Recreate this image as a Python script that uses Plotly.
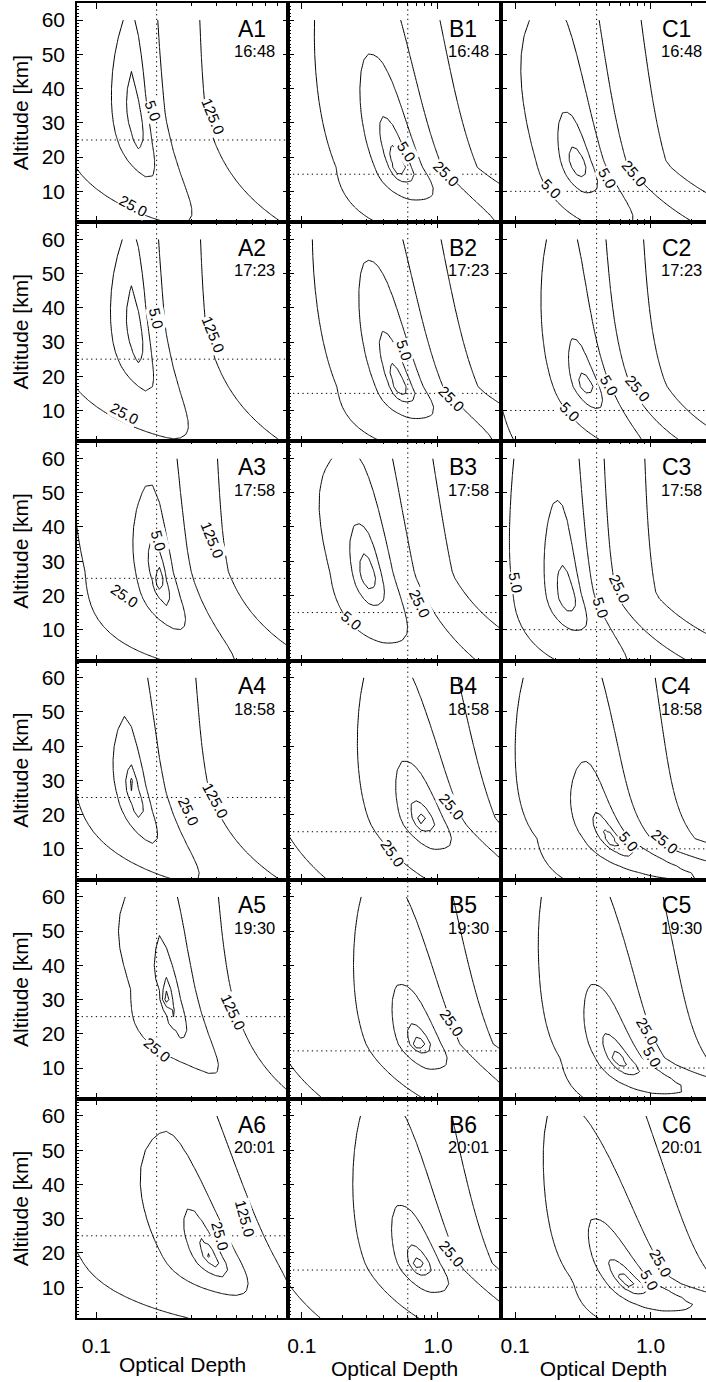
import numpy as np
import plotly.graph_objects as go
from plotly.subplots import make_subplots

# ---------------- data ----------------
COLUMNS = ["A", "B", "C"]
TIMES = ["16:48", "17:23", "17:58", "18:58", "19:30", "20:01"]
TRUE_TAU = [0.2, 0.6, 0.4]          # dotted vertical line per column
TRUE_ALT = [25, 15, 10]             # dotted horizontal line per column
LEVELS = [0.2, 1, 5, 25, 125, 625, 3125]

# chi-square surface description (order A1..A6, B1..B6, C1..C6)
MIN_LOGTAU = [-0.81, -0.81, -0.70, -0.82, -0.67, -0.43,
              -0.30, -0.29, -0.53, -0.13, -0.155, -0.155,
              -0.554, -0.49, -0.63, -0.30, -0.25, -0.20]
MIN_ALT = [33, 35, 27, 27.5, 33, 19,
           17, 16.5, 26, 18, 17, 16.3,
           18.2, 17.4, 20, 13, 12.5, 12]
VALLEY_SCALE = [15, 15, 15, 15, 15, 15,
                15, 15, 15, 15, 15, 15,
                15, 15, 15, 8, 8, 8]
VALLEY_CURVE = [0.25, 0.25, 0.30, 0.335, 0.5, 0.256,
                0.29, 0.29, 0.17, 0.30, 0.30, 0.30,
                0.233, 0.415, 0.253, 0.727, 0.5, 0.5]
VALLEY_TILT = [0.0, 0.0, 0.0, 0.0, 0.0, 0.213,
               0.2, 0.2, 0.166, 0.2, 0.2, 0.2,
               0.138, 0.044, 0.025, 0.123, 0.2, 0.361]
SCALE_UP = [12.0, 11.5, 10.0, 8.2, 6.2, 5.5,
            14.8, 16.7, 14.9, 6.02, 5.95, 6.02,
            15.0, 13.6, 27.7, 7.73, 7.5, 6.16]
POW_UP = [1.7, 1.7, 1.7, 1.7, 1.7, 1.7,
          2.0, 2.0, 1.8, 1.5, 1.5, 1.5,
          1.4, 1.2, 1.4, 1.5, 1.5, 1.5]
SCALE_DOWN = [11.2, 11.4, 10.0, 9.4, 8.5, 3.15,
              4.25, 3.94, 8.9, 2.77, 2.5, 2.67,
              8.6, 6.8, 10.2, 5.5, 4.5, 4.0]
POW_DOWN = [3, 3, 3, 3, 3, 2.5,
            2, 2, 2, 1.5, 1.5, 1.5,
            2, 1.5, 2, 2, 2, 2]
POW_R = [1.9, 1.9, 2.2, 1.9, 2.2, 1.9,
         2.8, 2.8, 2.8, 2.8, 2.8, 2.8,
         2.8, 2.8, 2.8, 2.2, 2.6, 2.6]
WIDTH_R = [0.028, 0.028, 0.040, 0.030, 0.038, 0.025,
           0.105, 0.105, 0.114, 0.10, 0.10, 0.10,
           0.12, 0.108, 0.12, 0.07, 0.105, 0.105]
GROW_R = [0.8, 0.8, 0.8, 0.5, 0.0, 0.0,
          1.6, 1.6, 1.2, 2.0, 2.0, 2.0,
          1.4, 0.6, 1.5, 3.0, 3.0, 4.0]
POW_L = [1.3, 1.3, 1.3, 1.3, 0.7, 1.6,
         1.6, 1.6, 1.6, 1.6, 1.6, 1.6,
         1.6, 1.6, 1.6, 1.6, 1.6, 1.6]
WIDTH_L = [0.032, 0.034, 0.030, 0.024, 0.0016, 0.032,
           0.06, 0.06, 0.095, 0.05, 0.05, 0.05,
           0.105, 0.085, 0.14, 0.072, 0.055, 0.05]
GROW_L = [0.0, 0.0, 0.5, 0.0, 3.0, 0.0,
          0.8, 0.8, 0.8, 0.0, 0.0, 0.0,
          0.3, 0.6, 0.5, 1.2, 1.2, 1.5]
TOP_L = [0.0, 0.0, 0.3, 0.3, 1.5, 0.3,
         0.0, 0.0, 0.5, 0.0, 0.0, 0.0,
         0.45, 0.2, 0.0, 0.13, 0.1, 0.0]

# contour labels
LABEL_TEXT = ["5.0", "125.0", "25.0",
              "5.0", "125.0", "25.0",
              "5.0", "125.0", "25.0",
              "125.0", "25.0",
              "125.0", "25.0",
              "125.0", "25.0",
              "5.0", "25.0",
              "5.0", "25.0",
              "5.0", "25.0",
              "25.0", "25.0",
              "25.0",
              "25.0",
              "5.0", "5.0", "25.0",
              "5.0", "5.0", "25.0",
              "5.0", "5.0", "25.0",
              "5.0", "25.0",
              "25.0", "5.0",
              "25.0", "5.0"]
LABEL_PANEL = [0, 0, 0, 1, 1, 1, 2, 2, 2, 3, 3, 4, 4, 5, 5,
               6, 6, 7, 7, 8, 8, 9, 9, 10, 11,
               12, 12, 12, 13, 13, 13, 14, 14, 14, 15, 15, 16, 16, 17, 17]
LABEL_U = [-0.717, -0.417, -0.817, -0.70, -0.417, -0.858, -0.69, -0.42, -0.86,
           -0.404, -0.539, -0.315, -0.697, -0.258, -0.382,
           -0.233, 0.061, -0.245, 0.098, -0.637, -0.135, 0.099, -0.331, 0.099, 0.099,
           -0.734, -0.315, -0.118, -0.60, -0.303, -0.094, -0.993, -0.365, -0.229,
           -0.161, 0.105, -0.021, 0.012, 0.072, -0.004]
LABEL_ALT = [33.7, 31.8, 6.0, 36.9, 32.1, 9.2, 36.0, 36.0, 20.0,
             24.2, 20.9, 26.2, 15.5, 30.0, 25.1,
             21.6, 15.3, 27.6, 13.5, 12.7, 17.6, 22.3, 8.7, 23.2, 19.8,
             10.9, 13.8, 15.3, 9.6, 17.4, 16.4, 23.9, 16.6, 22.0,
             12.1, 12.1, 20.7, 13.4, 17.1, 12.0]
LABEL_ANGLE = [70, 68, 28, 78, 68, 28, 75, 68, 35,
               62, 65, 65, 40, 75, 75,
               58, 45, 72, 45, 40, 65, 50, 55, 55, 50,
               45, 60, 50, 45, 60, 50, 80, 72, 65,
               50, 40, 60, 60, 60, 60]

# ---------------- layout constants ----------------
XRANGE = [(-1.097, -0.041), (-1.10, 0.4625), (-1.105, 0.41)]
YRANGE = [1, 65]
FONT = "Liberation Sans, Arial, Helvetica, sans-serif"
NAME_X = [0.90, 0.893, 0.93]
TIME_X = [0.941, 0.951, 0.984]

ALT_GRID = np.array([1, 3, 5, 7, 9, 11, 13, 15, 17, 19, 21, 23, 25, 27, 30,
                     33, 36, 40, 45, 50, 55, 60], dtype=float)
U_GRID = np.arange(-1.14, 0.50, 0.035)


def surface(i):
    U, H = np.meshgrid(U_GRID, ALT_GRID)
    u0, h0, sc = MIN_LOGTAU[i], MIN_ALT[i], VALLEY_SCALE[i]
    E = np.exp(-H / sc)
    E0 = np.exp(-h0 / sc)
    centre = u0 + VALLEY_CURVE[i] * (E - E0) + VALLEY_TILT[i] * (h0 - H) / 50.0
    dh = H - h0
    floor = np.where(dh > 0, (np.abs(dh) / SCALE_UP[i]) ** POW_UP[i],
                     (np.abs(dh) / SCALE_DOWN[i]) ** POW_DOWN[i])
    d = U - centre
    low = np.maximum(0.0, E - E0)
    up = (np.maximum(0.0, dh) / 30.0) ** 1.5
    wr = WIDTH_R[i] * (1 + GROW_R[i] * low)
    wl = WIDTH_L[i] * (1 + GROW_L[i] * low) * (1 + TOP_L[i] * up)
    f = np.where(d > 0, (np.abs(d) / wr) ** POW_R[i], (np.abs(d) / wl) ** POW_L[i])
    z = floor + f
    return np.log(np.maximum(z, 1e-4)) / np.log(5.0)


fig = make_subplots(rows=6, cols=3, horizontal_spacing=0, vertical_spacing=0,
                    column_widths=[211.2, 212.5, 205])

minor_x = [0.2, 0.3, 0.4, 0.5, 0.6, 0.7, 0.8, 0.9, 2, 3]
lvl_log = np.log(LEVELS) / np.log(5.0)
dotted = dict(color="black", width=1, dash="1.3px,3.4px")

for col in range(3):
    for row in range(6):
        i = col * 6 + row
        fig.add_trace(go.Contour(
            x=10 ** U_GRID, y=ALT_GRID, z=surface(i),
            contours=dict(start=float(lvl_log[0]), end=float(lvl_log[-1]), size=1.0,
                          coloring="lines", showlabels=False),
            colorscale=[[0, "black"], [1, "black"]], showscale=False,
            line=dict(width=1, smoothing=0), hoverinfo="skip"),
            row=row + 1, col=col + 1)
        lo, hi = 10 ** XRANGE[col][0], 10 ** XRANGE[col][1]
        fig.add_trace(go.Scatter(x=[TRUE_TAU[col]] * 2, y=YRANGE, mode="lines",
                                 line=dotted, hoverinfo="skip", showlegend=False),
                      row=row + 1, col=col + 1)
        fig.add_trace(go.Scatter(x=[lo, hi], y=[TRUE_ALT[col]] * 2, mode="lines",
                                 line=dotted, hoverinfo="skip", showlegend=False),
                      row=row + 1, col=col + 1)

        fig.update_xaxes(type="log", range=list(XRANGE[col]),
                         tickvals=[0.1, 1.0], ticktext=["0.1", "1.0"],
                         ticks="inside", ticklen=6, tickwidth=1, tickcolor="black",
                         minor=dict(tickvals=minor_x, ticks="inside", ticklen=3,
                                    tickwidth=1, tickcolor="black"),
                         showline=True, linecolor="black", linewidth=1.5, mirror="allticks",
                         showgrid=False, zeroline=False,
                         showticklabels=(row == 5), ticklabelstandoff=8,
                         tickfont=dict(size=21, family=FONT, color="black"),
                         title=dict(text="Optical Depth" if row == 5 else "",
                                    font=dict(size=21, family=FONT, color="black"),
                                    standoff=1),
                         row=row + 1, col=col + 1)
        fig.update_yaxes(range=YRANGE, tickvals=[10, 20, 30, 40, 50, 60],
                         ticks="inside", ticklen=6, tickwidth=1, tickcolor="black",
                         minor=dict(dtick=1, tick0=0, ticks="inside", ticklen=2.5,
                                    tickwidth=1, tickcolor="black"),
                         showline=True, linecolor="black", linewidth=1.5,
                         mirror=("allticks" if col < 2 else False),
                         showgrid=False, zeroline=False,
                         showticklabels=(col == 0), ticklabelstandoff=6,
                         tickfont=dict(size=21, family=FONT, color="black"),
                         title=dict(text="Altitude [km]" if col == 0 else "",
                                    font=dict(size=21, family=FONT, color="black"),
                                    standoff=7),
                         row=row + 1, col=col + 1)

annotations = []
for col in range(3):
    for row in range(6):
        k = row * 3 + col + 1
        sfx = "" if k == 1 else str(k)
        annotations.append(dict(text=f"{COLUMNS[col]}{row + 1}", xref=f"x{sfx} domain",
                                yref=f"y{sfx} domain", x=NAME_X[col], y=0.8825,
                                xanchor="right", yanchor="middle", showarrow=False,
                                borderpad=0,
                                font=dict(size=23, family=FONT, color="black")))
        annotations.append(dict(text=TIMES[row], xref=f"x{sfx} domain",
                                yref=f"y{sfx} domain", x=TIME_X[col], y=0.78,
                                xanchor="right", yanchor="middle", showarrow=False,
                                borderpad=0,
                                font=dict(size=16.5, family=FONT, color="black")))

for t, p, u, h, ang in zip(LABEL_TEXT, LABEL_PANEL, LABEL_U, LABEL_ALT, LABEL_ANGLE):
    col, row = p // 6, p % 6
    k = row * 3 + col + 1
    sfx = "" if k == 1 else str(k)
    annotations.append(dict(text=t, xref=f"x{sfx}", yref=f"y{sfx}", x=u, y=h,
                            textangle=ang, showarrow=False, bgcolor="white",
                            borderpad=0,
                            font=dict(size=15, family=FONT, color="black")))

fig.update_layout(width=706, height=1382, margin=dict(l=77, r=0, t=3, b=64),
                  paper_bgcolor="white", plot_bgcolor="white", showlegend=False,
                  annotations=annotations, font=dict(family=FONT, color="black"))

fig.write_html("out.html")
